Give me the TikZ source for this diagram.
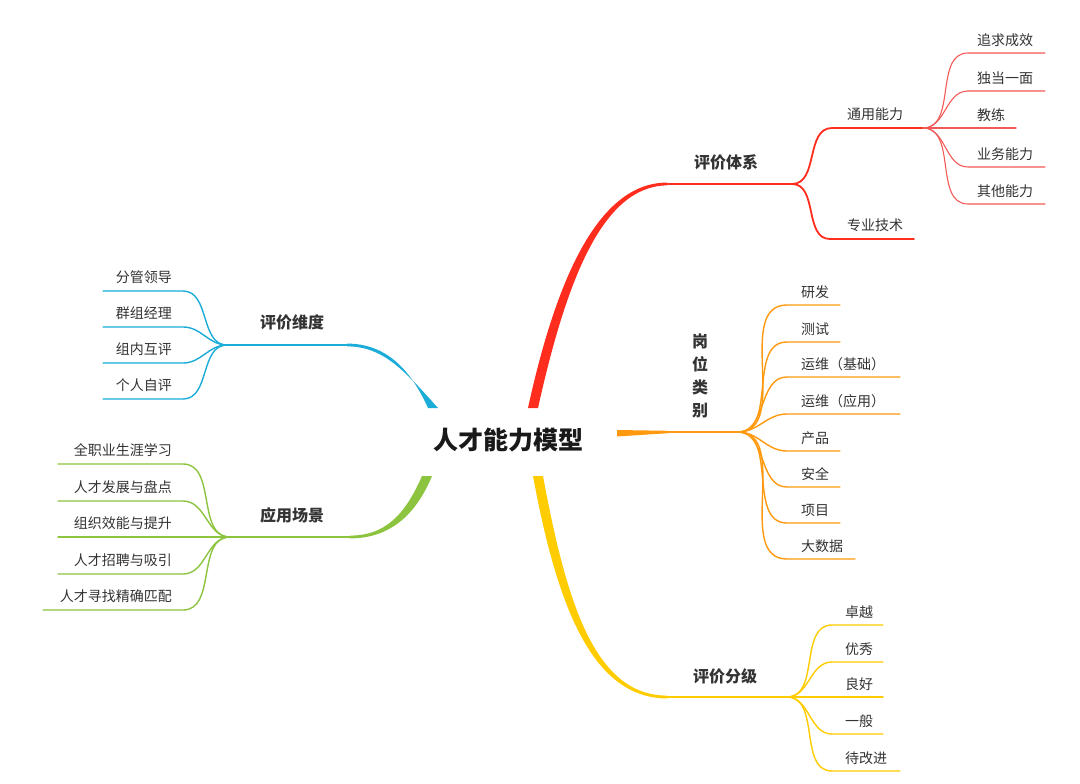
\documentclass[tikz,border=0pt]{standalone}
\usepackage{fontspec}
\setmainfont{Noto Sans CJK SC}
\definecolor{txt}{HTML}{333333}
\definecolor{cred}{HTML}{FF2D1E}
\definecolor{credl}{HTML}{F25A55}
\definecolor{corg}{HTML}{FF9A10}
\definecolor{cyel}{HTML}{FFCC00}
\definecolor{cblu}{HTML}{1BADD8}
\definecolor{cgrn}{HTML}{8CC43F}
\begin{document}
\begin{tikzpicture}[x=1pt,y=-1pt,line cap=round,
  leaf/.style={font=\fontsize{14}{14}\selectfont,text=txt,inner sep=0pt},
  mid/.style={font=\fontsize{16}{16}\selectfont\bfseries,text=txt,inner sep=0pt},
  root/.style={font=\fontsize{25}{25}\selectfont\bfseries,text=black!90,inner sep=0pt},
  sub/.style={line width=1.8pt},
  lf/.style={line width=1.4pt},
  curveR/.style={out=0,in=180},
  curveL/.style={out=180,in=0}]
\useasboundingbox (0,0) rectangle (1080,784);
\fill[white] (0,0) rectangle (1080,784);

% root
\node[root] (root) at (508,440) {人才能力模型};

% ---------- red: 评价体系 ----------
\fill[cred] (528,408) .. controls (556,280) and (598,182.6) .. (667,182.6) -- (667,185.4) .. controls (602,186) and (566,282) .. (538,408) -- cycle;
\coordinate (rA) at (667,184);
\coordinate (rB) at (792,184);
\draw[cred,sub] (rA) -- (rB);
\node[mid] (pjtx) at (726,162) {评价体系};
\coordinate (tyS) at (832,128); \coordinate (tyE) at (923,128);
\coordinate (zyS) at (830,239); \coordinate (zyE) at (914,239);
\draw[cred,sub] (rB) to[curveR] (tyS) -- (tyE);
\draw[cred,sub] (rB) to[curveR] (zyS) -- (zyE);
\node[leaf] (ty) at (875,114) {通用能力};
\node[leaf] (zy) at (875,225) {专业技术};
\foreach \n/\t/\y/\e in {a/追求成效/53/1045, b/独当一面/91/1045, c/教练/128/1016, d/业务能力/167/1045, e/其他能力/204/1045}{
  \coordinate (rl\n S) at (968,\y);
  \coordinate (rl\n E) at (\e,\y);
  \draw[credl,line width=1.1pt] (tyE) to[curveR] (rl\n S) -- (rl\n E);
  \node[leaf,anchor=west] (rl\n) at (977,\y-13) {\t};
}

% ---------- orange: 岗位类别 ----------
\fill[corg] (617,430) -- (668,430.8) -- (668,433.2) -- (617,436.5) -- cycle;
\coordinate (oA) at (668,432);
\coordinate (oB) at (738,432);
\draw[corg,sub] (oA) -- (oB);
\node[mid,align=center,font=\fontsize{16}{23}\selectfont\bfseries] (gwlb) at (700,376) {岗\\位\\类\\别};
\foreach \n/\t/\y/\e in {a/研发/305/840, b/测试/342/840, c/运维（基础）/377/900, d/运维（应用）/414/900, e/产品/451/840, f/安全/487/840, g/项目/523/840, h/大数据/559/855}{
  \coordinate (ol\n S) at (787,\y);
  \coordinate (ol\n E) at (\e,\y);
  \draw[corg,lf] (oB) to[curveR] (ol\n S) -- (ol\n E);
  \node[leaf,anchor=west] (ol\n) at (801,\y-13) {\t};
}

% ---------- yellow: 评价分级 ----------
\fill[cyel] (533,476) .. controls (556,600) and (590,698.4) .. (667,698.4) -- (667,695.6) .. controls (594,695.6) and (566,600) .. (543,476) -- cycle;
\coordinate (yA) at (667,697);
\coordinate (yB) at (787,697);
\draw[cyel,sub] (yA) -- (yB);
\node[mid] (pjfj) at (725,676) {评价分级};
\foreach \n/\t/\y/\e in {a/卓越/625/883, b/优秀/662/883, c/良好/697/883, d/一般/734/883, e/待改进/771/900}{
  \coordinate (yl\n S) at (832,\y);
  \coordinate (yl\n E) at (\e,\y);
  \draw[cyel,lf] (yB) to[curveR] (yl\n S) -- (yl\n E);
  \node[leaf,anchor=west] (yl\n) at (845,\y-13) {\t};
}

% ---------- blue: 评价维度 ----------
\fill[cblu] (428,408) .. controls (410,368) and (385,343.6) .. (347,343.6) -- (347,346.4) .. controls (383,346.4) and (404,370) .. (438,408) -- cycle;
\coordinate (bA) at (347,345);
\coordinate (bB) at (227,345);
\draw[cblu,sub] (bA) -- (bB);
\node[mid] (pjwd) at (292,322) {评价维度};
\foreach \n/\t/\y in {a/分管领导/291, b/群组经理/327, c/组内互评/363, d/个人自评/399}{
  \coordinate (bl\n S) at (183,\y);
  \coordinate (bl\n E) at (103,\y);
  \draw[cblu,lf] (bB) to[curveL] (bl\n S) -- (bl\n E);
  \node[leaf,anchor=east] (bl\n) at (172,\y-14) {\t};
}

% ---------- green: 应用场景 ----------
\fill[cgrn] (422,476) .. controls (405,515) and (385,535.6) .. (350,535.6) -- (350,538.4) .. controls (388,538.4) and (415,517) .. (432,476) -- cycle;
\coordinate (gA) at (350,537);
\coordinate (gB) at (230,537);
\draw[cgrn,sub] (gA) -- (gB);
\node[mid] (yycj) at (292,515) {应用场景};
\foreach \n/\t/\y/\e in {a/全职业生涯学习/464/58, b/人才发展与盘点/501/58, c/组织效能与提升/537/58, d/人才招聘与吸引/574/58, e/人才寻找精确匹配/610/43}{
  \coordinate (gl\n S) at (183,\y);
  \coordinate (gl\n E) at (\e,\y);
  \draw[cgrn,lf] (gB) to[curveL] (gl\n S) -- (gl\n E);
  \node[leaf,anchor=east] (gl\n) at (172,\y-14) {\t};
}
\end{tikzpicture}
\end{document}
